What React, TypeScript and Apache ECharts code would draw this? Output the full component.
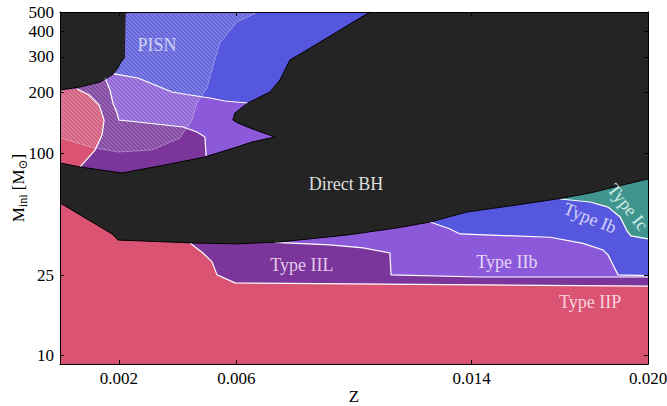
import React, { useEffect, useRef } from 'react';
import * as echarts from 'echarts';

// ---- Data: boundaries as [Z, M_ini (Msun)] ----
const X_TICKS = [0.002, 0.006, 0.014, 0.02];
const Y_TICKS = [10, 25, 100, 200, 300, 400, 500];
const Z_MIN = 0;
const Z_MAX = 0.02;
const M_MIN = 9.1;
const M_MAX = 500;

// upper-left black (direct BH) boundary
const TOP_LEFT_EDGE = [[0, 205.8], [0.00068, 213], [0.00136, 225.4], [0.00177, 244.2], [0.00197, 264.4], [0.00207, 283], [0.00221, 299.7], [0.00224, 500]];
// upper edge of the central direct-BH band
const BH_UPPER_EDGE = [[0, 89.7], [0.00068, 85.7], [0.00211, 80], [0.00374, 88.6], [0.00493, 96], [0.00602, 107.6], [0.00653, 113.9], [0.00731, 120.5], [0.00646, 133.5], [0.00605, 141.3], [0.00588, 146.3], [0.00595, 158.4], [0.00639, 177.5], [0.00714, 201.2], [0.00748, 230.7], [0.00782, 289.5], [0.0084, 324.5], [0.01054, 500]];
// lower edge of the central direct-BH band
const BH_LOWER_EDGE = [[0, 56.9], [0.00177, 40], [0.00197, 37.3], [0.00452, 36.1], [0.00602, 35.7], [0.00748, 36.5], [0.00976, 39.5], [0.01146, 42.8], [0.01259, 45.8], [0.01384, 51.3], [0.01554, 55.6], [0.0169, 59.5], [0.01803, 63.7], [0.01915, 69.8], [0.02, 74.7]];
// upper-left sub-boundaries
const UPPER_IB_LINE = [[0.00184, 247], [0.00265, 236], [0.00323, 217.8], [0.00381, 201.2], [0.00442, 194.4], [0.0051, 187.9], [0.00561, 181.6], [0.00639, 177.5]];
const UPPER_IIL_LINE = [[0.00153, 236], [0.0017, 205.8], [0.0018, 177.5], [0.00194, 158.4], [0.002, 146.3], [0.00265, 143], [0.00357, 138.2], [0.00418, 135.1], [0.00466, 127.6], [0.00493, 120.5], [0.00497, 97.1]];
const UPPER_IIP_LINE = [[0.00058, 208.2], [0.00099, 194.4], [0.00133, 173.5], [0.0015, 146.3], [0.00143, 123.3], [0.00119, 103.9], [0.00092, 93.8], [0.00068, 85.7]];
const PISN_EDGE = [[0.00673, 500], [0.00602, 446.2], [0.00544, 351.3], [0.0052, 267.4], [0.005, 210.6], [0.00466, 177.5], [0.00449, 146.3], [0.00408, 119.2], [0.00313, 103.9], [0.00197, 101.6], [0.00119, 106.3], [0, 119.2]];
// lower sub-boundaries (each runs from the BH lower edge to Z = 0.020)
const IIL_LOWER = [[0.00442, 36.1], [0.00486, 32.2], [0.00517, 29.1], [0.00534, 25.1], [0.00595, 22.9], [0.01429, 22.4], [0.02, 22.1]];
const IIB_LOWER = [[0.00731, 36.3], [0.00918, 35.3], [0.01031, 34.1], [0.01122, 32.2], [0.01126, 25.1], [0.01429, 24.5], [0.02, 24.5]];
const IB_LOWER = [[0.01259, 45.8], [0.01327, 42.3], [0.0136, 40], [0.01667, 38.5], [0.01779, 35.9], [0.01847, 33.3], [0.01864, 31.5], [0.01898, 25.1], [0.02, 24.9]];
const IC_LOWER = [[0.01701, 59.5], [0.01803, 57.5], [0.01864, 54.3], [0.01905, 48.5], [0.01929, 41.3], [0.01942, 39.1], [0.02, 37.8]];

// region labels
const LABELS = ['PISN', 'Direct BH', 'Type IIL', 'Type IIb', 'Type IIP', 'Type Ib', 'Type Ic'];
const LABEL_Z = [0.0033, 0.00973, 0.00823, 0.0152, 0.01803, 0.01803, 0.01932];
const LABEL_M = [343.4, 70.6, 28.1, 29.1, 18.4, 47.9, 54.3];

const SERIF = '"Liberation Serif", "DejaVu Serif", serif';
const C_BH = '#242424';
const C_IIP = '#da5373';
const C_IIL = '#7b359b';
const C_IIB = '#8c59da';
const C_IB = '#5557de';
const C_IC = '#40968f';

export default function App() {
  const ref = useRef<HTMLDivElement>(null);
  useEffect(() => {
    const chart = echarts.init(ref.current!, null, { renderer: 'svg' });

    const S = 4;
    const tile = document.createElement('canvas');
    tile.width = S;
    tile.height = S;
    const ctx = tile.getContext('2d')!;
    ctx.fillStyle = 'rgba(190,190,205,0.17)';
    ctx.fillRect(0, 0, S, S);
    ctx.strokeStyle = 'rgba(235,235,250,0.28)';
    ctx.lineWidth = 1;
    ctx.beginPath();
    ctx.moveTo(-1, -1); ctx.lineTo(S + 1, S + 1);
    ctx.moveTo(-1, S - 1); ctx.lineTo(1, S + 1);
    ctx.moveTo(S - 1, -1); ctx.lineTo(S + 1, 1);
    ctx.stroke();
    const hatch = { image: tile, repeat: 'repeat', imageWidth: S, imageHeight: S };

    const rev = (a: number[][]) => a.slice().reverse();
    const under = (line: number[][]) => [
      ...line,
      ...rev(BH_LOWER_EDGE.filter((p) => p[0] > line[0][0])),
    ];

    type Layer = { kind: 'polygon' | 'polyline'; pts: number[][]; fill?: any; stroke?: string; lw?: number };
    const layers: Layer[] = [
      { kind: 'polygon', pts: [[Z_MIN, M_MIN], ...BH_LOWER_EDGE, [Z_MAX, M_MIN]], fill: C_IIP },
      { kind: 'polygon', pts: under(IIL_LOWER), fill: C_IIL },
      { kind: 'polygon', pts: under(IIB_LOWER), fill: C_IIB },
      { kind: 'polygon', pts: under(IB_LOWER), fill: C_IB },
      { kind: 'polygon', pts: under(IC_LOWER), fill: C_IC },
      { kind: 'polygon', pts: [...TOP_LEFT_EDGE, ...rev(BH_UPPER_EDGE)], fill: C_IIL },
      { kind: 'polygon', pts: [...UPPER_IB_LINE, ...BH_UPPER_EDGE.slice(13), ...rev(TOP_LEFT_EDGE.slice(4))], fill: C_IB },
      { kind: 'polygon', pts: [...UPPER_IB_LINE, ...rev(BH_UPPER_EDGE.slice(5, 12)), ...rev(UPPER_IIL_LINE)], fill: C_IIB },
      { kind: 'polygon', pts: [TOP_LEFT_EDGE[0], ...UPPER_IIP_LINE, BH_UPPER_EDGE[0]], fill: C_IIP },
      { kind: 'polygon', pts: [...TOP_LEFT_EDGE, ...PISN_EDGE], fill: hatch },
      { kind: 'polyline', pts: PISN_EDGE, stroke: 'rgba(255,255,255,0.3)', lw: 1 },
      { kind: 'polyline', pts: IIL_LOWER, stroke: '#ffffff', lw: 1.2 },
      { kind: 'polyline', pts: IIB_LOWER, stroke: '#ffffff', lw: 1.2 },
      { kind: 'polyline', pts: IB_LOWER, stroke: '#ffffff', lw: 1.2 },
      { kind: 'polyline', pts: IC_LOWER, stroke: '#ffffff', lw: 1.2 },
      { kind: 'polyline', pts: UPPER_IB_LINE, stroke: '#ffffff', lw: 1.2 },
      { kind: 'polyline', pts: UPPER_IIL_LINE, stroke: '#ffffff', lw: 1.2 },
      { kind: 'polyline', pts: UPPER_IIP_LINE, stroke: '#ffffff', lw: 1.2 },
      { kind: 'polyline', pts: TOP_LEFT_EDGE.slice(0, 7), stroke: '#000000', lw: 1 },
      { kind: 'polyline', pts: BH_UPPER_EDGE, stroke: '#000000', lw: 1 },
      { kind: 'polyline', pts: BH_LOWER_EDGE, stroke: '#000000', lw: 1 },
    ];

    const LABEL_ROT = [0, 0, 0, 0, 0, -22, -52];
    const LABEL_COL = ['rgba(225,228,250,0.85)', '#dedede', 'rgba(255,240,255,0.8)', 'rgba(255,245,255,0.8)', 'rgba(255,235,240,0.85)', 'rgba(235,235,255,0.85)', 'rgba(235,255,250,0.85)'];

    const axisCommon = {
      type: 'value',
      z: 10,
      splitLine: { show: false },
      axisLine: { show: true, onZero: false, lineStyle: { color: '#000', width: 1 } },
    };

    chart.setOption({
      animation: false,
      grid: {
        left: 60, right: 19, top: 12, bottom: 42,
        show: true, backgroundColor: C_BH, borderWidth: 0,
        outerBoundsMode: 'none',
      },
      xAxis: [
        {
          ...axisCommon, position: 'bottom', min: Z_MIN, max: Z_MAX,
          axisTick: { show: true, inside: true, length: 4, customValues: X_TICKS, lineStyle: { color: '#000' } },
          axisLabel: { customValues: X_TICKS, formatter: (v: number) => v.toFixed(3), fontFamily: SERIF, fontSize: 17, color: '#000', margin: 6 },
          name: 'Z', nameLocation: 'middle', nameGap: 24, nameMoveOverlap: false,
          nameTextStyle: { fontFamily: SERIF, fontSize: 17, color: '#000' },
        },
        {
          ...axisCommon, position: 'top', min: Z_MIN, max: Z_MAX,
          axisTick: { show: true, inside: true, length: 4, customValues: X_TICKS, lineStyle: { color: '#000' } },
          axisLabel: { show: false },
        },
      ],
      yAxis: [
        {
          ...axisCommon, position: 'left', min: Math.log10(M_MIN), max: Math.log10(M_MAX),
          axisTick: { show: true, inside: true, length: 4, customValues: Y_TICKS.map(Math.log10), lineStyle: { color: '#000' } },
          axisLabel: {
            customValues: Y_TICKS.map(Math.log10),
            formatter: (v: number) => String(Math.round(Math.pow(10, v))),
            fontFamily: SERIF, fontSize: 17, color: '#000', margin: 6,
          },
          name: '{m|M}{s|ini}{m| [M}{s|⊙}{m|]}',
          nameLocation: 'middle', nameGap: 31, nameRotate: 90, nameMoveOverlap: false,
          nameTextStyle: {
            rich: {
              m: { fontFamily: SERIF, fontSize: 17, color: '#000', lineHeight: 22 },
              s: { fontFamily: SERIF, fontSize: 12, color: '#000', lineHeight: 12, verticalAlign: 'bottom' },
            },
          },
        },
        {
          ...axisCommon, position: 'right', min: Math.log10(M_MIN), max: Math.log10(M_MAX),
          axisTick: { show: true, inside: true, length: 4, customValues: Y_TICKS.map(Math.log10), lineStyle: { color: '#000' } },
          axisLabel: { show: false },
        },
      ],
      series: [
        {
          type: 'custom',
          xAxisIndex: 0, yAxisIndex: 0,
          silent: true,
          data: layers.map(() => [0.01, 2]),
          renderItem: (params: any, api: any) => {
            const L = layers[params.dataIndex];
            const points = L.pts.map((p) => api.coord([p[0], Math.log10(p[1])]));
            if (L.kind === 'polygon') {
              return { type: 'polygon', z2: params.dataIndex, shape: { points }, style: { fill: L.fill } };
            }
            return {
              type: 'polyline', z2: params.dataIndex, shape: { points },
              style: { stroke: L.stroke, lineWidth: L.lw, fill: null },
            };
          },
        },
        {
          type: 'custom',
          xAxisIndex: 0, yAxisIndex: 0,
          silent: true,
          z: 5,
          data: LABELS.map(() => [0.01, 2]),
          renderItem: (params: any, api: any) => {
            const i = params.dataIndex;
            const [x, y] = api.coord([LABEL_Z[i], Math.log10(LABEL_M[i])]);
            return {
              type: 'text', x, y, rotation: (LABEL_ROT[i] * Math.PI) / 180,
              style: {
                text: LABELS[i], fill: LABEL_COL[i], fontSize: 18, fontFamily: SERIF,
                align: 'center', verticalAlign: 'middle',
              },
            };
          },
        },
      ],
    });
    return () => chart.dispose();
  }, []);
  return <div ref={ref} style={{ position: 'fixed', left: 0, top: 0, width: 667, height: 406, background: '#fff' }} />;
}
